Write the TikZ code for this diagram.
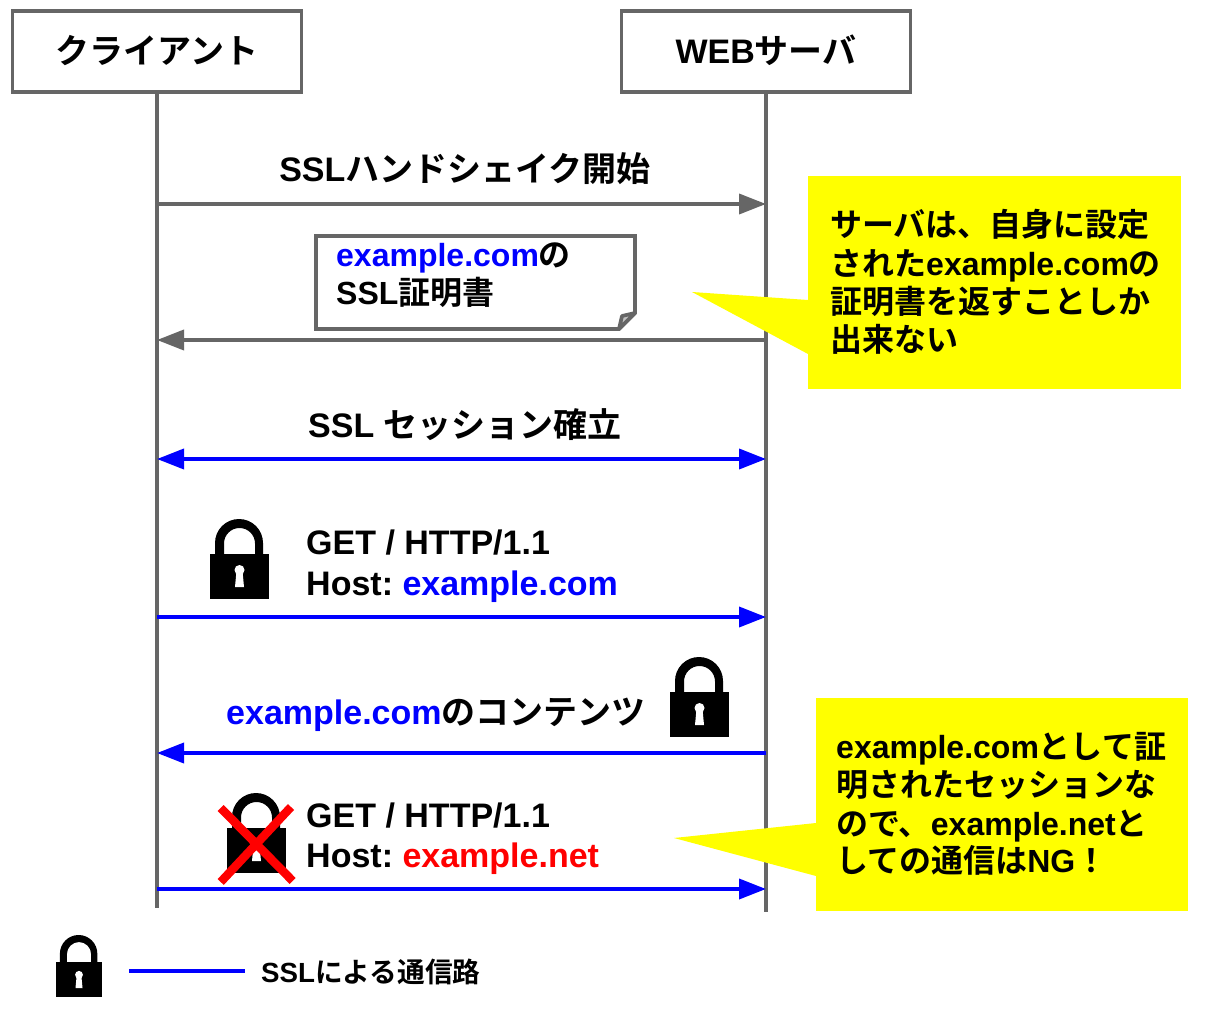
\documentclass[tikz,border=0pt]{standalone}
\usepackage{fontspec}
\setmainfont{Liberation Sans}[BoldFont={Liberation Sans Bold}]
\newfontfamily\cjk{Noto Sans CJK JP}[BoldFont={Noto Sans CJK JP Bold}]
\newcommand{\J}[1]{{\cjk #1}}
\usetikzlibrary{arrows.meta}
\definecolor{gline}{HTML}{666666}
\definecolor{bl}{HTML}{0000FF}
\definecolor{rd}{HTML}{FF0000}
\definecolor{yl}{HTML}{FFFF00}
\frenchspacing
\begin{document}
\begin{tikzpicture}[x=1pt,y=-1pt,
 lab/.style={inner sep=0pt,anchor=base west,font=\bfseries\fontsize{34}{34}\selectfont,text=black},
 clab/.style={lab,anchor=base},
 call/.style={lab,font=\bfseries\fontsize{32}{32}\selectfont},
 head/.style={draw=gline,line width=3.7pt,fill=white,inner sep=0pt,minimum width=289pt,minimum height=81pt},
 life/.style={draw=gline,line width=3.7pt},
 msg/.style={draw=gline,line width=3.7pt,-{Triangle[length=27pt,width=20pt]}},
 bmsg/.style={draw=bl,line width=3.7pt,-{Triangle[length=27pt,width=20pt]}},
 bbi/.style={draw=bl,line width=3.7pt,{Triangle[length=27pt,width=20pt]}-{Triangle[length=27pt,width=20pt]}},
 lockp/.pic={
   \fill[black] (0,35) rectangle (59,80);
   \fill[black,even odd rule] (5,36) -- (5,24) arc[start angle=180,end angle=360,radius=24] -- (53,36) -- cycle
     (14,36) -- (14,24.5) arc[start angle=180,end angle=360,radius=15.5] -- (45,36) -- cycle;
   \fill[white] (29.5,51) circle[radius=5];
   \fill[white] (26.5,52) -- (32.5,52) -- (34,68) -- (25,68) -- cycle;
 },
]
\useasboundingbox (0,0) rectangle (1210,1016);
\fill[white] (0,0) rectangle (1210,1016);
% lifelines
\coordinate (lt) at (157,92); \coordinate (lb) at (157,908);
\coordinate (rt) at (766,92); \coordinate (rb) at (766,912);
\draw[life] (lt)--(lb);
\draw[life] (rt)--(rb);
\node[head] (cl) at (157,51.5) {};
\node[head] (sv) at (766,51.5) {};
\node[clab] (clt) at (157,64) {\J{クライアント}};
\node[clab] (svt) at (766,64) {WEB\J{サーバ}};
% messages
\coordinate (a1) at (157,204); \coordinate (a2) at (766,204);
\draw[msg] (a1)--(a2);
\node[clab] (m1) at (465,182) {SSL\J{ハンドシェイク開始}};
\coordinate (b1) at (766,340); \coordinate (b2) at (157,340);
\draw[msg] (b1)--(b2);
% note
\draw[gline,line width=3.7pt,fill=white] (316,236) -- (635,236) -- (635,313) -- (619,329) -- (316,329) -- cycle;
\draw[gline,line width=3.7pt,fill=gline!40,line join=round] (635,313) -- (622,316) -- (619,329) -- cycle;
\node[call] (n1) at (336,267) {\textcolor{bl}{example.com}\J{の}};
\node[call] (n2) at (336,305) {SSL\J{証明書}};
% callout 1
\fill[yl] (808,176) rectangle (1181,389);
\fill[yl] (808,300) -- (692,292) -- (808,354) -- cycle;
\node[call] (c1a) at (830,237) {\J{サーバは、自身に設定}};
\node[call] (c1b) at (830,276) {\J{された}example.com\J{の}};
\node[call] (c1c) at (830,313) {\J{証明書を返すことしか}};
\node[call] (c1d) at (830,351) {\J{出来ない}};
\coordinate (d1) at (157,459); \coordinate (d2) at (766,459);
\draw[bbi] (d1)--(d2);
\node[clab] (m3) at (465,437) {SSL \J{セッション確立}};
\coordinate (e1) at (157,617); \coordinate (e2) at (766,617);
\draw[bmsg] (e1)--(e2);
\node[lab] (g1) at (306,554) {GET / HTTP/1.1};
\node[lab] (g2) at (306,595) {Host: \textcolor{bl}{example.com}};
\pic at (210,519) {lockp};
\coordinate (f1) at (766,753); \coordinate (f2) at (157,753);
\draw[bmsg] (f1)--(f2);
\node[lab] (g3) at (226,724) {\textcolor{bl}{example.com}\J{のコンテンツ}};
\pic at (670,657) {lockp};
\coordinate (h1) at (157,889); \coordinate (h2) at (766,889);
\draw[bmsg] (h1)--(h2);
\node[lab] (g4) at (306,827) {GET / HTTP/1.1};
\node[lab] (g5) at (306,867) {Host: \textcolor{rd}{example.net}};
\pic at (227,793) {lockp};
\coordinate (x1) at (220.7,808); \coordinate (x2) at (292.7,881);
\coordinate (x3) at (291,807); \coordinate (x4) at (220.7,882);
\draw[rd,line width=8.5pt] (x1)--(x2) (x3)--(x4);
% callout 2
\fill[yl] (816,698) rectangle (1188,911);
\fill[yl] (816,823) -- (674,838) -- (816,876) -- cycle;
\node[call] (c2a) at (836,758) {example.com\J{として証}};
\node[call] (c2b) at (836,796) {\J{明されたセッションな}};
\node[call] (c2c) at (836,835) {\J{ので、}example.net\J{と}};
\node[call] (c2d) at (836,872) {\J{しての通信は}NG\J{！}};
% legend
\pic[scale=0.78] at (56,935) {lockp};
\coordinate (k1) at (129,971); \coordinate (k2) at (245,971);
\draw[draw=bl,line width=3.7pt] (k1)--(k2);
\node[lab,font=\bfseries\fontsize{27.7}{27.7}\selectfont] (k) at (261,982) {SSL\J{による通信路}};
\end{tikzpicture}
\end{document}
